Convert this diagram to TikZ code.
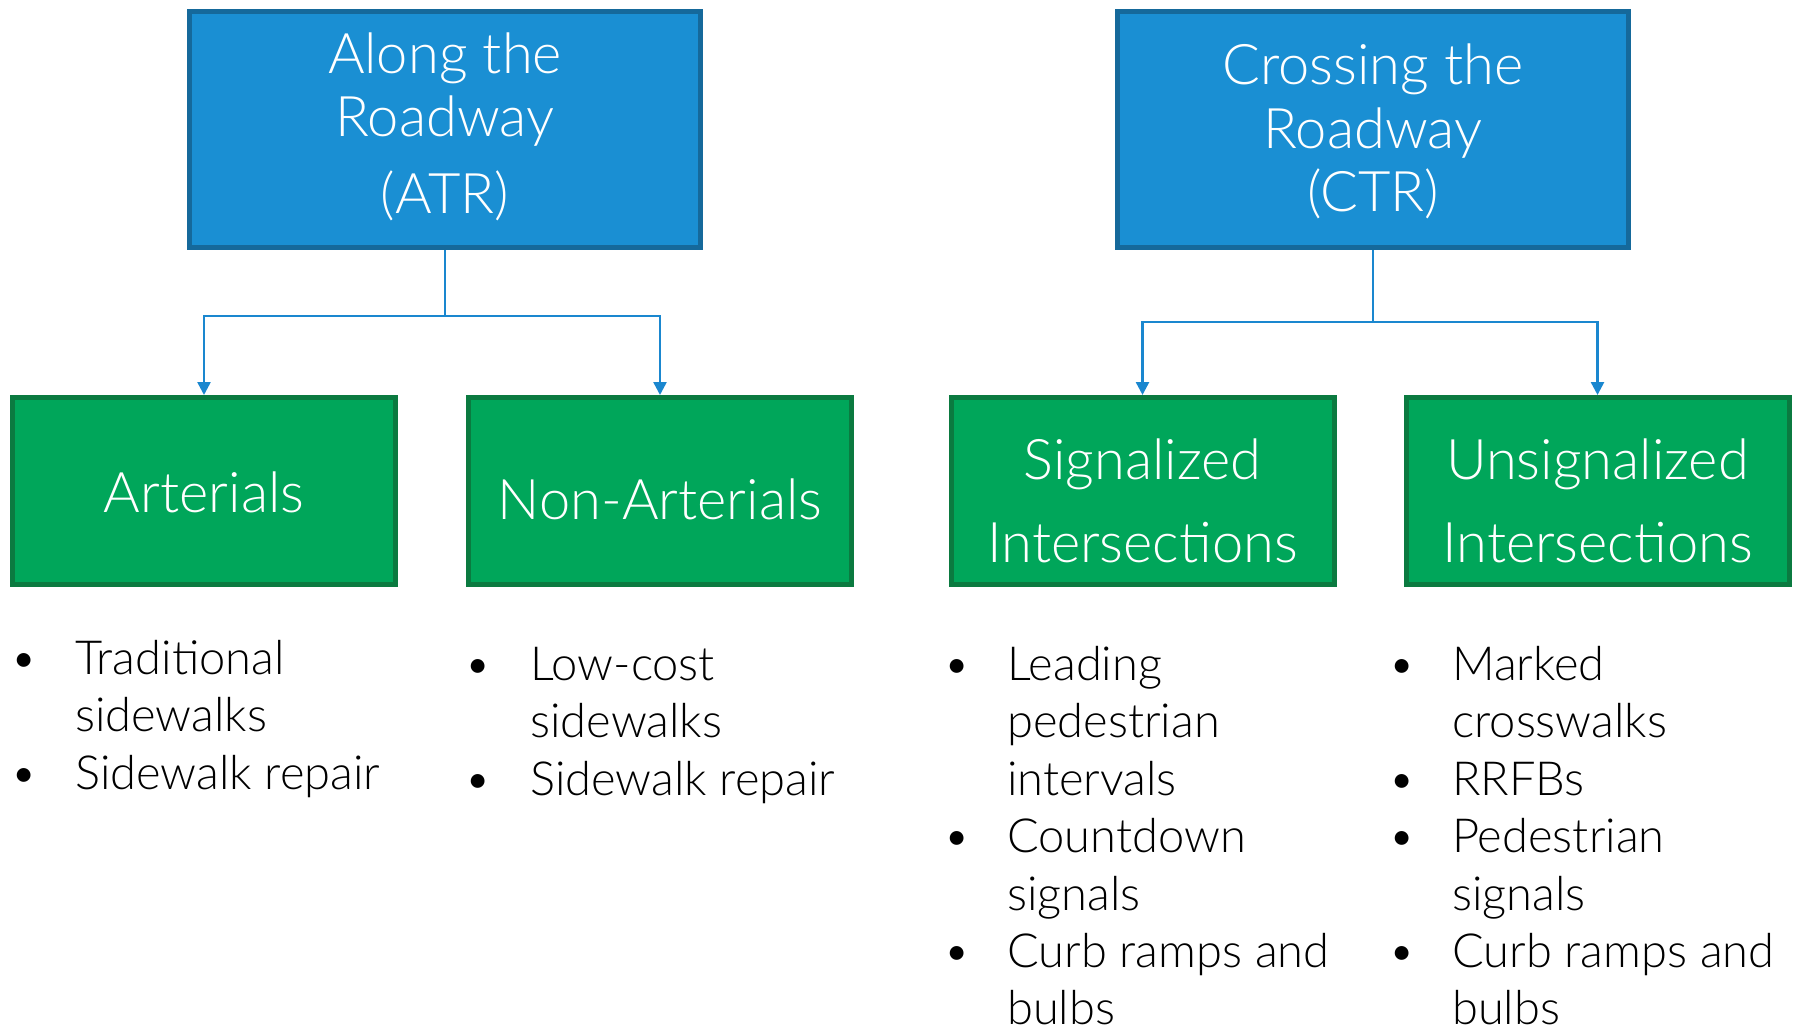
\documentclass[tikz,border=0pt]{standalone}
\usepackage{fontspec}
\IfFontExistsTF{Lato Light}{\setmainfont{Lato Light}}{\setmainfont{Lato}}
\usetikzlibrary{arrows.meta}
\definecolor{boxblue}{RGB}{26,143,211}
\definecolor{boxblueedge}{RGB}{21,105,155}
\definecolor{boxgreen}{RGB}{0,166,90}
\definecolor{boxgreenedge}{RGB}{11,122,64}
\definecolor{connblue}{RGB}{26,135,207}
\tikzset{
  topbox/.style={draw=boxblueedge, fill=boxblue, line width=5pt, minimum width=511pt, minimum height=236pt, inner sep=0pt},
  subbox/.style={draw=boxgreenedge, fill=boxgreen, line width=5pt, minimum width=383pt, minimum height=187pt, inner sep=0pt},
  toptext/.style={inner sep=0pt, anchor=base, text=white, font=\fontsize{56}{60}\selectfont},
  subtext/.style={inner sep=0pt, anchor=base, text=white, font=\fontsize{56}{60}\selectfont},
  itemtext/.style={inner sep=0pt, anchor=base west, text=black, font=\fontsize{47}{57}\selectfont},
  bulletmark/.style={inner sep=0pt, anchor=base, text=black, font=\fontsize{47}{57}\selectfont},
  conn/.style={draw=connblue, line width=2.5pt, -{Triangle[width=13pt,length=13pt]}},
  connplain/.style={draw=connblue, line width=2.5pt}
}
\begin{document}
\begin{tikzpicture}[x=1pt,y=-1pt]
\useasboundingbox[fill=white] (0,0) rectangle (1795,1028);

% top boxes
\node[topbox] (atr) at (445,129.5) {};
\node[topbox] (ctr) at (1373,129.5) {};
\node[toptext] (atr1) at (445,73) {Along the};
\node[toptext] (atr2) at (445,136.5) {Roadway};
\node[toptext] (atr3) at (445,213.5) {(ATR)};
\node[toptext] (ctr1) at (1373,84.5) {Crossing the};
\node[toptext] (ctr2) at (1373,148) {Roadway};
\node[toptext] (ctr3) at (1373,211.5) {(CTR)};

% second level boxes
\node[subbox] (art) at (204,491) {};
\node[subbox] (nart) at (660,491) {};
\node[subbox] (sig) at (1142.5,491) {};
\node[subbox] (unsig) at (1597.5,491) {};
\node[subtext] (artT) at (204,512) {Arterials};
\node[subtext] (nartT) at (660,519) {Non-Arterials};
\node[subtext] (sigT1) at (1142.5,479) {Signalized};
\node[subtext] (sigT2) at (1142.5,562) {Intersections};
\node[subtext] (unsigT1) at (1597.5,479) {Unsignalized};
\node[subtext] (unsigT2) at (1597.5,562) {Intersections};

% connectors
\coordinate (jA) at (445,316);
\coordinate (jC) at (1373,322);
\draw[connplain] (atr.south) -- (jA);
\draw[conn] (jA) -| (art.north);
\draw[conn] (jA) -| (nart.north);
\draw[connplain] (ctr.south) -- (jC);
\draw[conn] (jC) -| (sig.north);
\draw[conn] (jC) -| (unsig.north);

% column 1
\node[bulletmark] (b11) at (23.7,674) {•};
\node[itemtext] (t11) at (75,674) {Traditional};
\node[itemtext] (t12) at (75,731.5) {sidewalks};
\node[bulletmark] (b12) at (23.7,789) {•};
\node[itemtext] (t13) at (75,789) {Sidewalk repair};

% column 2
\node[bulletmark] (b21) at (478,680) {•};
\node[itemtext] (t21) at (530,680) {Low-cost};
\node[itemtext] (t22) at (530,737.5) {sidewalks};
\node[bulletmark] (b22) at (478,795) {•};
\node[itemtext] (t23) at (530,795) {Sidewalk repair};

% column 3
\node[bulletmark] (b31) at (957,680) {•};
\node[itemtext] (t31) at (1007,680) {Leading};
\node[itemtext] (t32) at (1007,737.5) {pedestrian};
\node[itemtext] (t33) at (1007,795) {intervals};
\node[bulletmark] (b32) at (957,852.5) {•};
\node[itemtext] (t34) at (1007,852.5) {Countdown};
\node[itemtext] (t35) at (1007,910) {signals};
\node[bulletmark] (b33) at (957,967.5) {•};
\node[itemtext] (t36) at (1007,967.5) {Curb ramps and};
\node[itemtext] (t37) at (1007,1024) {bulbs};

% column 4
\node[bulletmark] (b41) at (1402,680) {•};
\node[itemtext] (t41) at (1452,680) {Marked};
\node[itemtext] (t42) at (1452,737.5) {crosswalks};
\node[bulletmark] (b42) at (1402,795) {•};
\node[itemtext] (t43) at (1452,795) {RRFBs};
\node[bulletmark] (b43) at (1402,852.5) {•};
\node[itemtext] (t44) at (1452,852.5) {Pedestrian};
\node[itemtext] (t45) at (1452,910) {signals};
\node[bulletmark] (b44) at (1402,967.5) {•};
\node[itemtext] (t46) at (1452,967.5) {Curb ramps and};
\node[itemtext] (t47) at (1452,1024) {bulbs};
\end{tikzpicture}
\end{document}
